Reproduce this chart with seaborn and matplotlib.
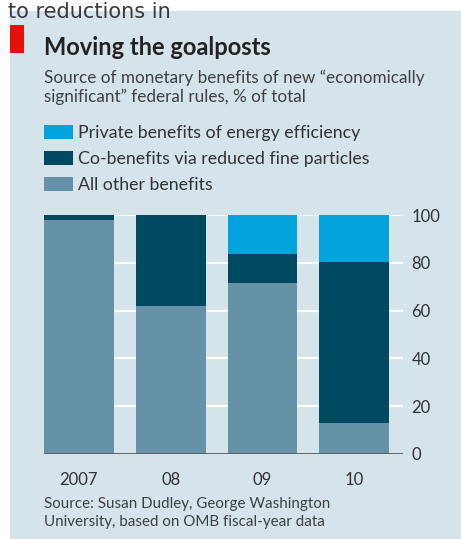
import matplotlib
matplotlib.use("Agg")
import matplotlib.pyplot as plt
from matplotlib.patches import Rectangle
import seaborn as sns
import pandas as pd
import numpy as np

years = ["2007", "08", "09", "10"]
other_benefits = [98, 62, 71.5, 13]
co_benefits = [2, 38, 12, 67.5]
private_benefits = [0, 0, 16.5, 19.5]
series_names = ["Private benefits of energy efficiency",
                "Co-benefits via reduced fine particles",
                "All other benefits"]
yticks = [0, 20, 40, 60, 80, 100]

C_PRIVATE = "#00a3dc"
C_CO = "#004a61"
C_OTHER = "#6592a6"
BG = "#d5e3eb"

W, H = 461, 539
sns.set_theme(style="white")
plt.rcParams["font.family"] = ["Lato", "DejaVu Sans"]

fig = plt.figure(figsize=(W / 100, H / 100), dpi=100)
fig.patch.set_facecolor("white")

def fx(px):
    return px / W

def fy(py):
    return 1 - py / H

# panel background
fig.patches.append(Rectangle((fx(10), 0), 1 - fx(10), fy(11), transform=fig.transFigure,
                             facecolor=BG, edgecolor="none", zorder=-5))
# red tag
fig.patches.append(Rectangle((fx(10), fy(53)), fx(24) - fx(10), fy(25) - fy(53),
                             transform=fig.transFigure, facecolor="#e3120b",
                             edgecolor="none", zorder=-4))

ax = fig.add_axes([fx(44), fy(454), fx(403) - fx(44), fy(215) - fy(454)])
ax.set_zorder(3)
ax.set_facecolor(BG)

df = pd.DataFrame({
    "year": years,
    "other": other_benefits,
    "co": co_benefits,
    "private": private_benefits,
})
df["cum_co"] = df["other"] + df["co"]
df["cum_private"] = df["cum_co"] + df["private"]

for col, color in [("cum_private", C_PRIVATE), ("cum_co", C_CO), ("other", C_OTHER)]:
    sns.barplot(data=df, x="year", y=col, order=years, color=color, width=0.76,
                saturation=1, ax=ax, zorder=3, linewidth=0, edgecolor="none")

for yv in yticks[1:]:
    ax.axhline(yv, color="white", lw=1.6, zorder=1)
ax.axhline(0, color="#5a5a5a", lw=2, zorder=4)

ax.set_xlim(-0.38, 3.53)
ax.set_ylim(0, 100)
ax.set_xlabel("")
ax.set_ylabel("")
for s in ax.spines.values():
    s.set_visible(False)
ax.yaxis.tick_right()
ax.set_yticks(yticks)
ax.set_yticklabels([str(v) for v in yticks])
ax.tick_params(axis="y", length=0, pad=6, labelsize=12, labelcolor="#333333")
ax.tick_params(axis="x", length=0, pad=13, labelsize=12, labelcolor="#333333")

# texts
fig.text(fx(8), fy(18), "to reductions in", fontsize=15, color="#3a3a3a",
         family="DejaVu Sans", va="baseline", ha="left", zorder=5)
fig.text(fx(44), fy(55), "Moving the goalposts", fontsize=17, fontweight="bold",
         color="#222222", va="baseline", ha="left")
fig.text(fx(44), fy(83), "Source of monetary benefits of new \u201ceconomically",
         fontsize=12.3, color="#404040", va="baseline", ha="left")
fig.text(fx(44), fy(102), "significant\u201d federal rules, % of total",
         fontsize=12.3, color="#404040", va="baseline", ha="left")

legend_colors = [C_PRIVATE, C_CO, C_OTHER]
legend_base = [138, 164, 190]
for name, c, b in zip(series_names, legend_colors, legend_base):
    fig.patches.append(Rectangle((fx(44), fy(b + 1)), fx(29), fy(0) - fy(14),
                                 transform=fig.transFigure, facecolor=c,
                                 edgecolor="none", zorder=2))
    fig.text(fx(78), fy(b), name, fontsize=12.8, color="#333333",
             va="baseline", ha="left")

fig.text(fx(44), fy(508), "Source: Susan Dudley, George Washington",
         fontsize=10.9, color="#404040", va="baseline", ha="left")
fig.text(fx(44), fy(526), "University, based on OMB fiscal-year data",
         fontsize=10.9, color="#404040", va="baseline", ha="left")

fig.savefig("out.png", dpi=100, facecolor="white")
